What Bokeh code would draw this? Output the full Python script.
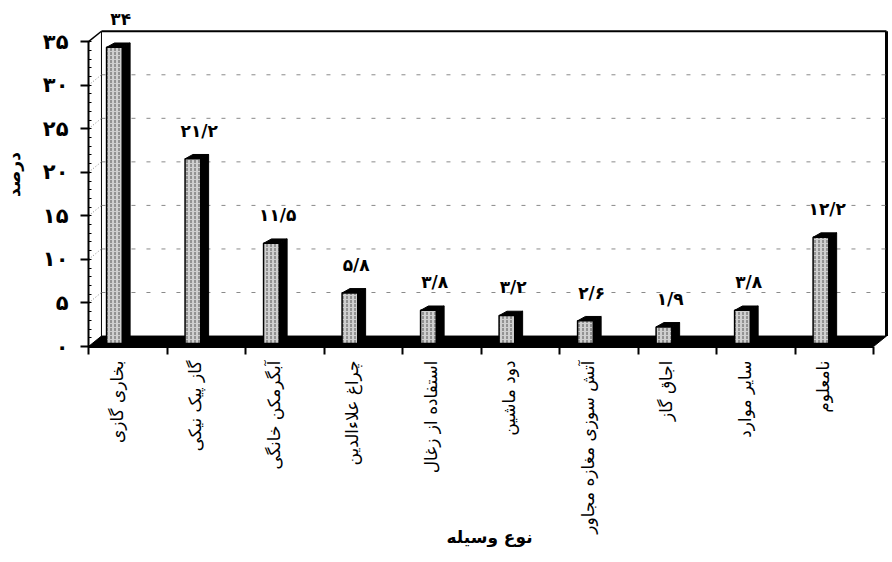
import math
from bokeh.plotting import figure
from bokeh.models import FixedTicker, Range1d, LinearAxis
from bokeh.core.properties import value
from bokeh.embed import file_html
from bokeh.resources import INLINE

# ---- data ----
categories = ["بخاری گازی", "گاز پیک نیکی", "آبگرمکن خانگی", "چراغ علاءالدین",
              "استفاده از زغال", "دود ماشین", "آتش سوزی مغازه مجاور", "اجاق گاز",
              "سایر موارد", "نامعلوم"]
values = [34, 21.2, 11.5, 5.8, 3.8, 3.2, 2.6, 1.9, 3.8, 12.2]
value_labels = ["۳۴", "۲۱/۲", "۱۱/۵", "۵/۸", "۳/۸", "۳/۲", "۲/۶", "۱/۹", "۳/۸", "۱۲/۲"]
y_ticks = [0, 5, 10, 15, 20, 25, 30, 35]
y_tick_labels = ["۰", "۵", "۱۰", "۱۵", "۲۰", "۲۵", "۳۰", "۳۵"]
x_title = "نوع وسیله"
y_title = "درصد"

FONT = "DejaVu Sans"
n = len(categories)
ymax = y_ticks[-1]

# 3D geometry (in data units)
DX, DY = 0.165, 1.2        # depth of chart walls
SDX, SDY = 0.10, 0.5       # depth of bars
OFF, HW, BASE = -0.17, 0.10, 0.35

p = figure(width=892, height=562, output_backend="svg", toolbar_location=None,
           x_range=Range1d(0, 10.216), y_range=Range1d(0, 39.5),
           min_border_left=87, min_border_right=2, min_border_top=2,
           min_border_bottom=216, x_axis_type=None, y_axis_type=None)
p.outline_line_color = None
p.xgrid.visible = False
p.ygrid.visible = False
p.background_fill_color = "white"

# back walls
top = ymax + DY
p.line([DX, n + DX], [top, top], line_color="black", line_width=2)
p.line([0, DX], [ymax, top], line_color="black", line_width=1.5)
p.line([DX, DX], [DY, top], line_color="black", line_width=1)
p.line([n + DX, n + DX], [DY, top], line_color="black", line_width=3)

# gridlines on back wall
grid_vals = [v for v in y_ticks if 0 < v < ymax]
p.segment(x0=[DX] * len(grid_vals), y0=[v + DY for v in grid_vals],
          x1=[n + DX] * len(grid_vals), y1=[v + DY for v in grid_vals],
          line_color="#8a8a8a", line_width=1, line_dash="4 11")
p.segment(x0=[0] * len(grid_vals), y0=grid_vals,
          x1=[DX] * len(grid_vals), y1=[v + DY for v in grid_vals],
          line_color="#888888", line_width=1, line_dash="1 2")

# floor
p.patch([0, n, n + DX, DX], [0, 0, DY, DY], fill_color="black", line_color="black")

# bars
centers = [i + 0.5 for i in range(n)]
lefts = [c + OFF - HW for c in centers]
rights = [c + OFF + HW for c in centers]
tops = [BASE + v for v in values]

side_xs, side_ys, top_xs, top_ys = [], [], [], []
for l, r, t in zip(lefts, rights, tops):
    side_xs.append([r, r + SDX, r + SDX, r])
    side_ys.append([BASE, BASE + SDY, t + SDY, t])
    top_xs.append([l, r, r + SDX, l + SDX])
    top_ys.append([t, t, t + SDY, t + SDY])
p.patches(side_xs, side_ys, fill_color="black", line_color="black")
p.patches(top_xs, top_ys, fill_color="black", line_color="black")
p.quad(left=lefts, right=rights, bottom=[BASE] * n, top=tops,
       fill_color="#cfcfcf", line_color="black", line_width=1.5,
       hatch_pattern=":", hatch_color="#555555", hatch_scale=4, hatch_weight=1)

# value labels
p.text(x=[c - 0.09 for c in centers], y=[v + 3.6 for v in values], text=value_labels,
       text_font=value(FONT), text_font_style="bold", text_font_size="17px",
       text_align="center", text_baseline="middle", text_color="black")

# y axis
ya = LinearAxis(ticker=FixedTicker(ticks=y_ticks,
                                   minor_ticks=[i for i in range(0, ymax + 1)]))
ya.bounds = (0, ymax)
ya.major_label_overrides = {t: s for t, s in zip(y_ticks, y_tick_labels)}
ya.axis_line_width = 2
ya.major_tick_out = 8
ya.major_tick_in = 1
ya.major_tick_line_width = 2
ya.minor_tick_in = 3
ya.minor_tick_out = 0
ya.major_label_standoff = 12
ya.major_label_text_font = FONT
ya.major_label_text_font_style = "bold"
ya.major_label_text_font_size = "21px"
ya.major_label_text_color = "black"
ya.axis_label = y_title
ya.axis_label_standoff = 16
ya.axis_label_text_font = FONT
ya.axis_label_text_font_style = "bold"
ya.axis_label_text_font_size = "17px"
ya.axis_label_text_color = "black"
p.add_layout(ya, "left")

# x axis
lab_pos = [c + OFF + 0.03 for c in centers]
xa = LinearAxis(ticker=FixedTicker(ticks=lab_pos, minor_ticks=list(range(0, n + 1))))
xa.bounds = (0, n)
xa.major_label_overrides = {x: s for x, s in zip(lab_pos, categories)}
xa.axis_line_width = 3
xa.major_tick_out = 0
xa.major_tick_in = 0
xa.major_tick_line_color = None
xa.minor_tick_out = 8
xa.minor_tick_in = 0
xa.minor_tick_line_width = 2
xa.major_label_orientation = math.pi / 2
xa.major_label_standoff = 6
xa.major_label_text_font = FONT
xa.major_label_text_font_size = "17px"
xa.major_label_text_color = "black"
xa.axis_label = x_title
xa.axis_label_standoff = -10
xa.axis_label_text_font = FONT
xa.axis_label_text_font_style = "bold"
xa.axis_label_text_font_size = "17px"
xa.axis_label_text_color = "black"
p.add_layout(xa, "below")

open("out.html", "w").write(file_html(p, INLINE))
